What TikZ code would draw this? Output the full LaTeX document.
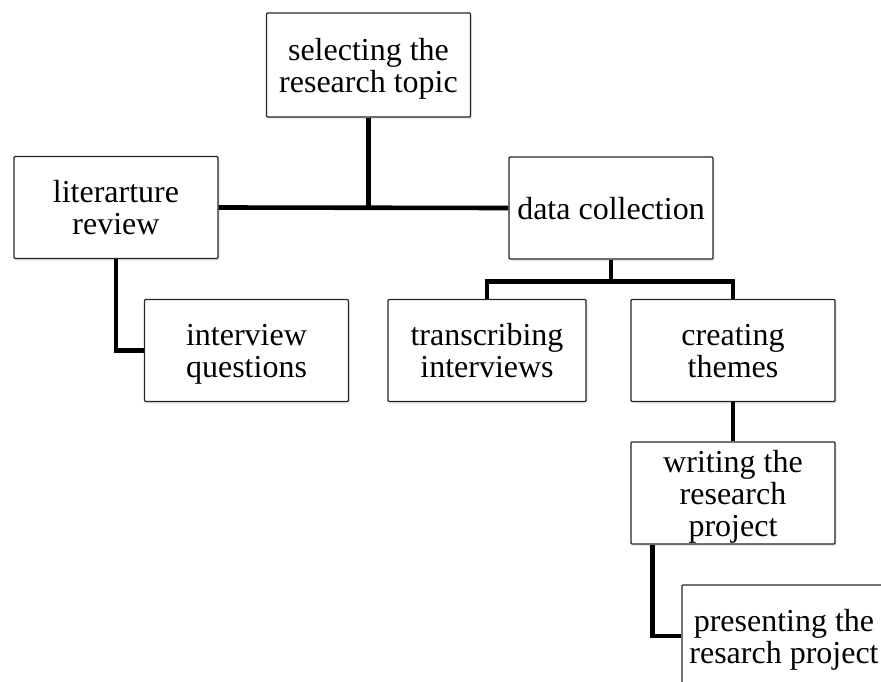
\documentclass[tikz,border=0pt]{standalone}
\usepackage{fontspec}
\setmainfont{Liberation Serif}
\usetikzlibrary{shadows}
\begin{document}
\begin{tikzpicture}[x=1pt,y=-1pt,line join=miter]
            \tikzset{stage/.style={draw=black!85,line width=1.2pt,rounded corners=1pt,fill=white,
                align=center,inner sep=0pt,minimum width=204pt,minimum height=102pt,text depth=0pt,
                font=\fontsize{32}{32}\selectfont,
                drop shadow={opacity=0.18,shadow xshift=1.5pt,shadow yshift=-2pt}},
                link/.style={line width=4.6pt}}
            \clip (0,0) rectangle (881,682);
            \node[stage,minimum height=104pt] (topic) at (368.5,65) {selecting the\\research topic};
            \node[stage] (review) at (116,207.5) {literarture\\review};
            \node[stage] (collect) at (611,208) {data collection};
            \node[stage] (questions) at (246.5,350.5) {interview\\questions};
            \node[stage,minimum width=198pt] (transcribe) at (487,350.5) {transcribing\\interviews};
            \node[stage] (themes) at (733,350.5) {creating\\themes};
            \node[stage] (writing) at (733,493) {writing the\\research\\project};
            \node[stage] (present) at (784,636) {presenting the\\resarch project};
            % connectors
            \draw[link] (review.east) -- (collect.west);
            \draw[link] (topic.south) -- (topic.south |- review.east);
            \draw[link] (review.south) |- (questions.west);
            \draw[link] (collect.south) -- ++(0,22) coordinate (split);
            \draw[link] (transcribe.north) |- (split) -| (themes.north);
            \draw[link] (themes.south) -- (writing.north);
            \draw[link] ([xshift=22pt]writing.south west) |- (present.west);
\end{tikzpicture}
\end{document}
